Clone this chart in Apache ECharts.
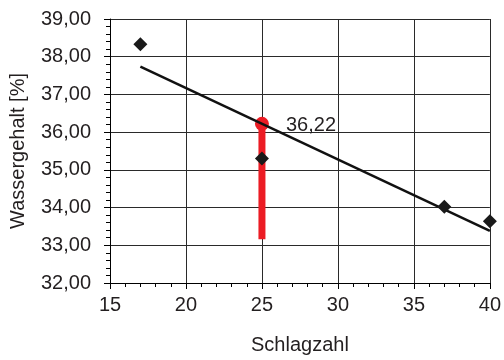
<!DOCTYPE html>
<html>
<head>
<meta charset="utf-8">
<script src="https://cdn.jsdelivr.net/npm/echarts@6/dist/echarts.min.js"></script>
<style>html,body{margin:0;padding:0;background:#fff;}#c{width:504px;height:360px;}</style>
</head>
<body>
<div id="c"></div>
<script>
// Measured points (Schlagzahl, Wassergehalt %)
var schlagzahl = [17, 25, 37, 40];
var wassergehalt = [38.33, 35.30, 34.02, 33.64];
// Trend line end points
var trendX = [17, 40];
var trendY = [37.74, 33.38];
// Result at 25 blows
var resultX = 25;
var resultY = 36.22;
var resultBarBottom = 33.16;
var resultLabel = '36,22';
// Tick labels
var xTicks = [15, 20, 25, 30, 35, 40];
var yTickLabels = ['32,00','33,00','34,00','35,00','36,00','37,00','38,00','39,00'];
var yTickValues = [32, 33, 34, 35, 36, 37, 38, 39];

var textColor = '#231f20';
var font = 'Liberation Sans, Arial, sans-serif';

var chart = echarts.init(document.getElementById('c'), null, {renderer: 'canvas'});
var option = {
  animation: false,
  grid: {left: 107, right: 12, top: 19, bottom: 74, containLabel: false},
  xAxis: {
    type: 'value', min: 15, max: 40, interval: 5,
    name: 'Schlagzahl', nameLocation: 'middle', nameGap: 52,
    nameTextStyle: {color: textColor, fontSize: 20, fontFamily: font},
    axisLine: {show: true, lineStyle: {color: '#000', width: 1}},
    axisTick: {show: true, length: 6, lineStyle: {color: '#000'}},
    minorTick: {show: true, splitNumber: 5, length: 4, lineStyle: {color: '#000'}},
    axisLabel: {color: textColor, fontSize: 20, fontFamily: font, margin: 12,
      formatter: function (v) { return xTicks.indexOf(v) >= 0 ? String(v) : ''; }},
    splitLine: {show: true, lineStyle: {color: '#2a2a2a', width: 1}}
  },
  yAxis: {
    type: 'value', min: 32, max: 39, interval: 1,
    name: 'Wassergehalt [%]', nameLocation: 'middle', nameGap: 82, nameRotate: 90,
    nameTextStyle: {color: textColor, fontSize: 20, fontFamily: font},
    axisLine: {show: true, lineStyle: {color: '#000', width: 1}},
    axisTick: {show: true, length: 6, lineStyle: {color: '#000'}},
    minorTick: {show: true, splitNumber: 5, length: 4, lineStyle: {color: '#000'}},
    axisLabel: {color: textColor, fontSize: 20, fontFamily: font, margin: 19,
      formatter: function (v) { var i = yTickValues.indexOf(Math.round(v*100)/100); return i >= 0 ? yTickLabels[i] : ''; }},
    splitLine: {show: true, lineStyle: {color: '#2a2a2a', width: 1}}
  },
  series: [
    {
      name: 'bar', type: 'line', z: 2,
      data: [[resultX, resultBarBottom], [resultX, resultY]],
      symbol: 'none',
      lineStyle: {color: '#ec1c24', width: 7, cap: 'butt'}
    },
    {
      name: 'result', type: 'scatter', z: 3,
      data: [[resultX, resultY]],
      symbol: 'circle', symbolSize: 14,
      itemStyle: {color: '#ec1c24', opacity: 1},
      label: {show: true, position: 'right', distance: 17, formatter: function(){return resultLabel;},
        color: textColor, fontSize: 20, fontFamily: font, offset: [0, 2], opacity: 1}
    },
    {
      name: 'trend', type: 'line', z: 4,
      data: trendX.map(function (x, i) { return [x, trendY[i]]; }),
      symbol: 'none',
      lineStyle: {color: '#111', width: 2.5}
    },
    {
      name: 'points', type: 'scatter', z: 5,
      data: schlagzahl.map(function (x, i) { return [x, wassergehalt[i]]; }),
      symbol: 'diamond', symbolSize: 14,
      itemStyle: {color: '#1a1a1a', opacity: 1}
    }
  ]
};
chart.setOption(option);
</script>
</body>
</html>
